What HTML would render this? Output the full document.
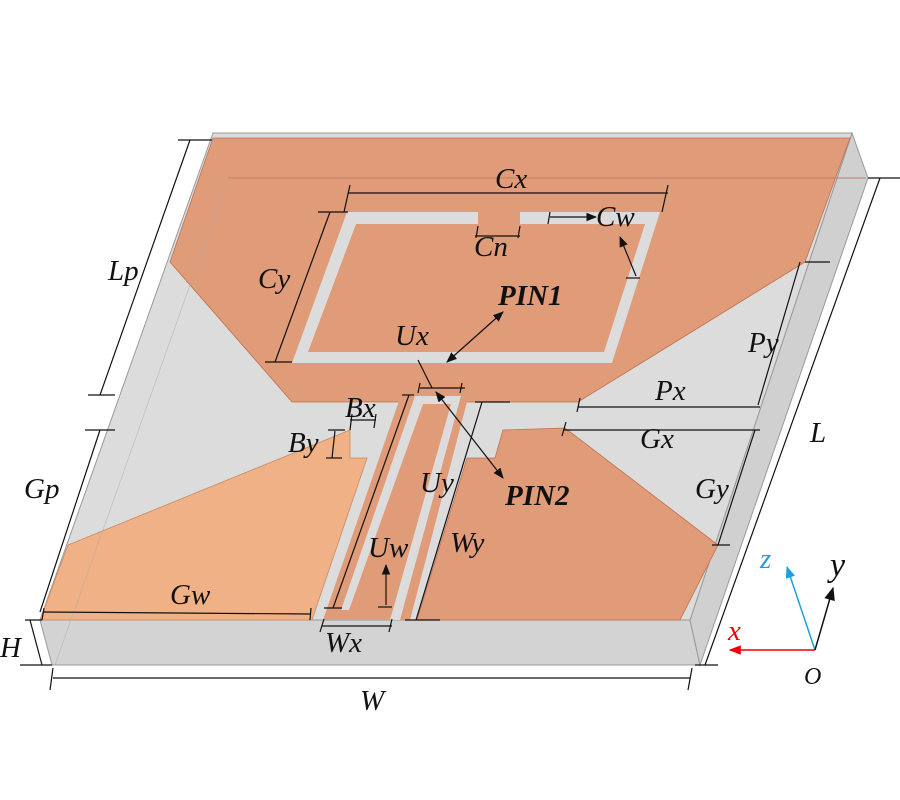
<!DOCTYPE html>
<html><head><style>
html,body{margin:0;padding:0;background:#fff;}
svg{display:block;}
text{font-family:"Liberation Serif",serif;font-style:italic;font-size:29px;fill:#111;}
.b{font-weight:bold;}
</style></head><body>
<svg width="900" height="800" viewBox="0 0 900 800" xmlns="http://www.w3.org/2000/svg">
<defs>
<marker id="ar" viewBox="0 0 10 10" refX="9" refY="5" markerWidth="9" markerHeight="9" orient="auto-start-reverse"><path d="M0,1 L10,5 L0,9 z" fill="#111"/></marker>
<marker id="arr" viewBox="0 0 10 10" refX="9" refY="5" markerWidth="8" markerHeight="8" orient="auto"><path d="M0,1 L10,5 L0,9 z" fill="#e00"/></marker>
<marker id="arb" viewBox="0 0 10 10" refX="9" refY="5" markerWidth="8" markerHeight="8" orient="auto"><path d="M0,1 L10,5 L0,9 z" fill="#1aa0e0"/></marker>
</defs>
<!-- substrate -->
<polygon points="213,133 852,133 868,178 700,665 52,665 40,620" fill="#dcdcdc"/>
<polygon points="40,620 690,620 700,665 52,665" fill="#d3d3d3" stroke="#999" stroke-width="1"/>
<polygon points="852,133 868,178 700,665 690,620" fill="#d0d0d0" stroke="#999" stroke-width="1"/>
<polygon points="213,133 852,133 690,620 40,620" fill="#dcdcdc" stroke="#999" stroke-width="1"/>
<!-- top patch -->
<polygon points="213,138 850,138 805,262 578,402 292,402 170,262" fill="#e09b78" stroke="#c07050" stroke-width="0.8"/>
<line x1="228" y1="178" x2="866" y2="178" stroke="#c0805f" stroke-width="1"/>
<!-- slot ring -->
<polygon points="347,212 660,212 612,363 292,363" fill="#dcdcdc"/>
<polygon points="356,224 645,224 604,352 308,352" fill="#e09b78"/>
<rect x="478" y="210" width="42" height="16" fill="#e09b78"/>
<!-- left ground -->
<polygon points="68,545 350,430 350,458 367,458 312,620 40,620" fill="#efb185" stroke="#c88a60" stroke-width="0.8"/>
<!-- right patch -->
<polygon points="503,430 565,428 718,545 680,620 417,620 467,458 495,458" fill="#e09b78" stroke="#c07050" stroke-width="0.8"/>
<!-- feed strip -->
<polygon points="400,398 468,398 410,620 323,620" fill="#e09b78"/>
<polygon points="415,396 461,396 400,620 390,620 451,404 423,404 349,610 341,610" fill="#dcdcdc"/>
<!-- faint back edges -->
<line x1="228" y1="178" x2="55" y2="665" stroke="#b0b0b0" stroke-width="0.8" opacity="0.6"/>
<g stroke="#111" stroke-width="1.2" fill="none">
<!-- Cx -->
<line x1="348" y1="193" x2="668" y2="193"/><line x1="350" y1="185" x2="344" y2="212"/><line x1="668" y1="185" x2="662" y2="212"/>
<!-- Cy -->
<line x1="330" y1="212" x2="275" y2="362"/><line x1="318" y1="212" x2="348" y2="212"/><line x1="265" y1="362" x2="292" y2="362"/>
<!-- Cn -->
<line x1="475" y1="236" x2="520" y2="236"/><line x1="478" y1="226" x2="476" y2="238"/><line x1="520" y1="226" x2="518" y2="238"/>
<!-- Cw -->
<line x1="550" y1="212" x2="548" y2="224"/><line x1="550" y1="217" x2="596" y2="217" marker-end="url(#ar)"/>
<line x1="636" y1="276" x2="620" y2="237" marker-end="url(#ar)"/><line x1="626" y1="278" x2="640" y2="278"/>
<!-- PIN1 -->
<line x1="447" y1="362" x2="503" y2="312" marker-start="url(#ar)" marker-end="url(#ar)"/>
<!-- Ux -->
<line x1="418" y1="360" x2="432" y2="388"/><line x1="420" y1="388" x2="465" y2="388"/><line x1="420" y1="383" x2="418" y2="393"/><line x1="462" y1="383" x2="460" y2="393"/>
<!-- PIN2 -->
<line x1="436" y1="392" x2="503" y2="478" marker-start="url(#ar)" marker-end="url(#ar)"/>
<!-- Bx By -->
<line x1="350" y1="420" x2="376" y2="420"/><line x1="352" y1="414" x2="350" y2="430"/><line x1="376" y1="414" x2="374" y2="428"/>
<line x1="335" y1="431" x2="332" y2="458"/><line x1="328" y1="430" x2="345" y2="430"/><line x1="326" y1="458" x2="342" y2="458"/>
<!-- Uy -->
<line x1="409" y1="395" x2="333" y2="608"/><line x1="402" y1="395" x2="414" y2="395"/><line x1="324" y1="608" x2="342" y2="608"/>
<!-- Uw -->
<line x1="386" y1="605" x2="386" y2="565" marker-end="url(#ar)"/><line x1="378" y1="607" x2="392" y2="607"/>
<!-- Wy -->
<line x1="482" y1="402" x2="416" y2="620"/><line x1="475" y1="402" x2="510" y2="402"/><line x1="405" y1="620" x2="440" y2="620"/>
<!-- Wx -->
<line x1="322" y1="626" x2="392" y2="626"/><line x1="324" y1="619" x2="320" y2="632"/><line x1="392" y1="619" x2="389" y2="632"/>
<!-- Gw -->
<line x1="43" y1="612" x2="310" y2="614"/><line x1="44" y1="608" x2="42" y2="620"/><line x1="311" y1="608" x2="310" y2="620"/>
<!-- Px Gx -->
<line x1="578" y1="407" x2="760" y2="407"/><line x1="580" y1="398" x2="577" y2="412"/>
<line x1="563" y1="430" x2="760" y2="430"/><line x1="566" y1="422" x2="562" y2="436"/>
<!-- Py Gy -->
<line x1="800" y1="262" x2="758" y2="405"/><line x1="805" y1="262" x2="830" y2="262"/>
<line x1="755" y1="430" x2="718" y2="545"/><line x1="712" y1="545" x2="730" y2="545"/>
<!-- L -->
<line x1="880" y1="178" x2="705" y2="665"/><line x1="868" y1="178" x2="900" y2="178"/><line x1="695" y1="665" x2="718" y2="665"/>
<!-- Lp Gp -->
<line x1="190" y1="140" x2="100" y2="395"/><line x1="178" y1="140" x2="212" y2="140"/><line x1="88" y1="395" x2="115" y2="395"/>
<line x1="100" y1="430" x2="40" y2="612"/><line x1="85" y1="430" x2="115" y2="430"/>
<!-- H -->
<line x1="25" y1="620" x2="42" y2="620"/><line x1="20" y1="665" x2="52" y2="665"/><line x1="30" y1="620" x2="42" y2="665"/>
<!-- W -->
<line x1="53" y1="678" x2="690" y2="678"/><line x1="53" y1="668" x2="50" y2="690"/><line x1="692" y1="668" x2="688" y2="690"/>
</g>
<!-- axes -->
<line x1="815" y1="650" x2="730" y2="650" stroke="#e00" stroke-width="1.5" marker-end="url(#arr)"/>
<line x1="815" y1="650" x2="787" y2="567" stroke="#1aa0e0" stroke-width="1.5" marker-end="url(#arb)"/>
<line x1="815" y1="650" x2="833" y2="588" stroke="#111" stroke-width="1.5" marker-end="url(#ar)"/>
<text x="728" y="640" style="fill:#e00">x</text>
<text x="760" y="568" style="fill:#1aa0e0">z</text>
<text x="830" y="576" style="font-size:34px">y</text>
<text x="804" y="684" style="font-size:24px">O</text>
<!-- labels -->
<text x="495" y="188">Cx</text>
<text x="474" y="256">Cn</text>
<text x="596" y="226">Cw</text>
<text x="258" y="288">Cy</text>
<text x="108" y="280">Lp</text>
<text x="498" y="305" class="b">PIN1</text>
<text x="395" y="345">Ux</text>
<text x="345" y="417">Bx</text>
<text x="288" y="452">By</text>
<text x="420" y="492">Uy</text>
<text x="505" y="505" class="b">PIN2</text>
<text x="368" y="557">Uw</text>
<text x="450" y="552">Wy</text>
<text x="170" y="604">Gw</text>
<text x="325" y="652">Wx</text>
<text x="24" y="498">Gp</text>
<text x="0" y="657">H</text>
<text x="360" y="710">W</text>
<text x="655" y="400">Px</text>
<text x="640" y="448">Gx</text>
<text x="748" y="352">Py</text>
<text x="695" y="498">Gy</text>
<text x="810" y="442">L</text>
</svg>
</body></html>
